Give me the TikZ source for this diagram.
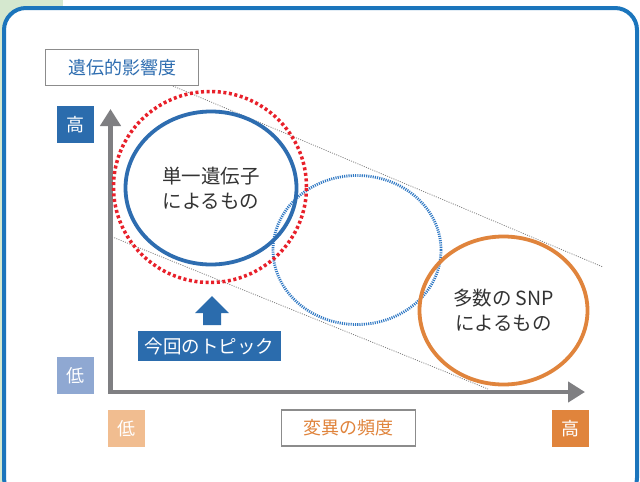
\documentclass[tikz,border=0pt]{standalone}
\usepackage{fontspec}
\setmainfont{Noto Sans CJK JP}
\usetikzlibrary{arrows.meta,shapes.geometric}
\definecolor{framebl}{HTML}{1B75BC}
\definecolor{boxbl}{HTML}{2B6CAD}
\definecolor{ellbl}{HTML}{2E6DB0}
\definecolor{dotbl}{HTML}{2F78C4}
\definecolor{lowbl}{HTML}{8FA8D2}
\definecolor{lowor}{HTML}{F1BD90}
\definecolor{orng}{HTML}{E0843C}
\definecolor{txtgr}{HTML}{333333}
\definecolor{axgr}{HTML}{7F7F82}
\definecolor{bordgr}{HTML}{8C8C8C}
\definecolor{bggreen}{HTML}{D5E8CF}
\definecolor{redd}{HTML}{E8202A}
\tikzset{
  labelbox/.style={draw=bordgr, line width=1.2pt, fill=white, minimum height=36pt, font=\fontsize{18}{20}\selectfont, inner sep=0pt},
  tagbox/.style={minimum width=37pt, minimum height=37pt, inner sep=0pt, text=white, font=\fontsize{18}{20}\selectfont},
  guide/.style={draw=gray, line width=0.8pt, dash pattern=on 1pt off 1.3pt},
  axisline/.style={draw=axgr, line width=4.5pt, line join=miter},
  oval/.style={ellipse, inner sep=0pt, align=center, text=txtgr, font=\fontsize{19.5}{25}\selectfont},
}
\begin{document}
\begin{tikzpicture}[x=1pt,y=-1pt]
\useasboundingbox (0,0) rectangle (640,482);
\clip (0,0) rectangle (640,482);
% background
\fill[bggreen] (0,0) rectangle (63,482);
\draw[framebl, line width=4pt, fill=white, rounded corners=22pt] (4,8) rectangle (637,500);
% guide lines
\coordinate (g1a) at (173,86);
\coordinate (g1b) at (603,267);
\coordinate (g2a) at (110,236);
\coordinate (g2b) at (488,389);
\draw[guide] (g1a) -- (g1b);
\draw[guide] (g2a) -- (g2b);
% axes
\coordinate (ytop) at (110.5,109);
\coordinate (orig) at (110.5,392);
\coordinate (xend) at (585,392);
\draw[axisline, {Triangle[length=17pt,width=20pt]}-{Triangle[length=17pt,width=20pt]}] (ytop) -- (orig) -- (xend);
% ellipses
\node[oval, draw=dotbl, line width=2.8pt, dash pattern=on 1.1pt off 1.1pt, minimum width=168pt, minimum height=149pt] (mid) at (357,250) {};
\node[oval, draw=ellbl, line width=3.8pt, minimum width=171pt, minimum height=153pt] (single) at (211,188) {単一遺伝子\\によるもの};
\node[oval, draw=redd, line width=3.5pt, dash pattern=on 3pt off 2.6pt, minimum width=193pt, minimum height=191pt] (topic) at (210,187) {};
\node[oval, draw=orng, line width=3.8pt, minimum width=168pt, minimum height=148pt] (snp) at (503.5,310.5) {多数の SNP\\によるもの};
% labels
\node[labelbox, minimum width=153pt, text=ellbl] (yl) at (122,67.5) {遺伝的影響度};
\node[labelbox, minimum width=134pt, text=orng] (xl) at (348.5,428) {変異の頻度};
\node[tagbox, fill=boxbl] (yhi) at (75.5,124.5) {高};
\node[tagbox, fill=lowbl] (ylo) at (75,375.5) {低};
\node[tagbox, fill=lowor] (xlo) at (126.5,428.5) {低};
\node[tagbox, fill=orng] (xhi) at (570.5,428.5) {高};
\node[fill=boxbl, text=white, minimum width=143pt, minimum height=30pt, inner sep=0pt, font=\fontsize{18.5}{20}\selectfont] (tp) at (209.5,346) {今回のトピック};
% up arrow
\fill[boxbl] (203,325) -- (203,313) -- (195,313) -- (212,296) -- (229,313) -- (221,313) -- (221,325) -- cycle;
\end{tikzpicture}
\end{document}
